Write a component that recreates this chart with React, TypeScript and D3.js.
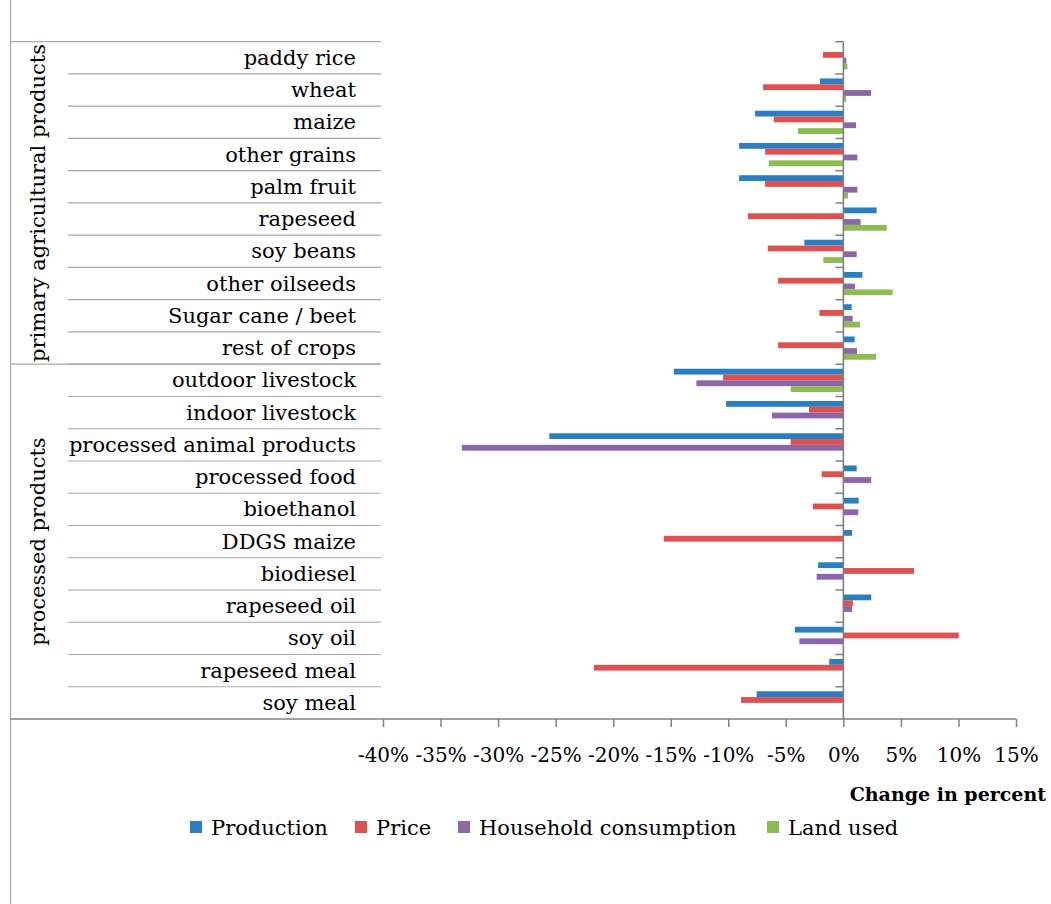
import React, { useRef, useEffect } from 'react';
import * as d3 from 'd3';

const categories = [
  'paddy rice', 'wheat', 'maize', 'other grains', 'palm fruit', 'rapeseed', 'soy beans',
  'other oilseeds', 'Sugar cane / beet', 'rest of crops', 'outdoor livestock', 'indoor livestock',
  'processed animal products', 'processed food', 'bioethanol', 'DDGS maize', 'biodiesel',
  'rapeseed oil', 'soy oil', 'rapeseed meal', 'soy meal',
];
const production = [0, -2.05, -7.67, -9.06, -9.06, 2.89, -3.39, 1.65, 0.72, 0.98, -14.73, -10.19, -25.55, 1.16, 1.33, 0.76, -2.19, 2.42, -4.21, -1.23, -7.53];
const price = [-1.77, -6.97, -6.05, -6.8, -6.8, -8.3, -6.57, -5.67, -2.08, -5.67, -10.45, -2.99, -4.58, -1.89, -2.65, -15.6, 6.14, 0.83, 10.02, -21.67, -8.89];
const household = [0.26, 2.4, 1.1, 1.22, 1.22, 1.5, 1.16, 1.0, 0.81, 1.19, -12.77, -6.2, -33.15, 2.42, 1.29, 0, -2.32, 0.76, -3.82, 0, 0];
const landUsed = [0.35, 0.25, -3.94, -6.48, 0.4, 3.76, -1.74, 4.28, 1.45, 2.84, -4.58, 0, 0, 0, 0, 0, 0, 0, 0, 0, 0];

const seriesNames = ['Production', 'Price', 'Household consumption', 'Land used'];
const seriesValues = [production, price, household, landUsed];
const colors = ['#2a7fc2', '#df5050', '#8c66a7', '#8cbb4f'];

const groups = [
  { label: 'primary agricultural products', first: 'paddy rice', last: 'rest of crops' },
  { label: 'processed products', first: 'outdoor livestock', last: 'soy meal' },
];
const xTicks = [-40, -35, -30, -25, -20, -15, -10, -5, 0, 5, 10, 15];

const FONT = '"DejaVu Serif", serif';

const App: React.FC = () => {
  const svgRef = useRef<SVGSVGElement | null>(null);

  useEffect(() => {
    if (!svgRef.current) return;
    const W = 1051;
    const H = 904;
    const svg = d3.select(svgRef.current).attr('width', W).attr('height', H);
    svg.selectAll('*').remove();

    const x = d3.scaleLinear().domain([-40, 15]).range([383, 1016]);
    const y = d3.scaleBand<string>().domain(categories).range([41.7, 719]).paddingInner(0.28).paddingOuter(0.14);
    const sub = d3.scaleBand<string>().domain(seriesNames).range([0, y.bandwidth()]);
    const half = (y.step() * y.paddingInner()) / 2;
    const top = (c: string) => (y(c) as number) - half;

    const gridColor = '#a9a9a9';
    const axisColor = '#808080';

    // frame left line
    svg.append('line').attr('x1', 10.5).attr('x2', 10.5).attr('y1', 0).attr('y2', H)
      .attr('stroke', gridColor).attr('stroke-width', 1.2);

    // category separators
    categories.forEach((c, i) => {
      if (i === 0) return;
      svg.append('line').attr('x1', 68).attr('x2', 381).attr('y1', top(c)).attr('y2', top(c))
        .attr('stroke', gridColor).attr('stroke-width', 1.2);
    });
    // group separators
    [top(categories[0]), top('outdoor livestock')].forEach((yy) => {
      svg.append('line').attr('x1', 10).attr('x2', 381).attr('y1', yy).attr('y2', yy)
        .attr('stroke', gridColor).attr('stroke-width', 1.2);
    });

    // category labels
    svg.append('g').selectAll('text').data(categories).join('text')
      .attr('x', 356)
      .attr('y', (d) => (y(d) as number) + y.bandwidth() / 2 + 7)
      .attr('text-anchor', 'end')
      .attr('font-family', FONT).attr('font-size', 21).attr('fill', '#000')
      .text((d) => d);

    // group labels
    groups.forEach((g) => {
      const y0 = top(g.first);
      const y1 = top(g.last) + y.step();
      const cy = (y0 + y1) / 2;
      svg.append('text')
        .attr('transform', `translate(45,${cy}) rotate(-90)`)
        .attr('text-anchor', 'middle')
        .attr('font-family', FONT).attr('font-size', 21).attr('fill', '#000')
        .text(g.label);
    });

    // bars
    seriesNames.forEach((s, si) => {
      svg.append('g').selectAll('rect').data(categories).join('rect')
        .attr('x', (_, i) => x(Math.min(0, seriesValues[si][i])))
        .attr('y', (d) => (y(d) as number) + (sub(s) as number))
        .attr('width', (_, i) => Math.abs(x(seriesValues[si][i]) - x(0)))
        .attr('height', sub.bandwidth())
        .attr('fill', colors[si]);
    });

    // vertical zero axis with category ticks
    const x0 = x(0);
    svg.append('line').attr('x1', x0).attr('x2', x0).attr('y1', top(categories[0])).attr('y2', 719)
      .attr('stroke', axisColor).attr('stroke-width', 1.6);
    categories.forEach((c) => {
      svg.append('line').attr('x1', x0 - 8).attr('x2', x0).attr('y1', top(c)).attr('y2', top(c))
        .attr('stroke', axisColor).attr('stroke-width', 1.5);
    });

    // x axis
    const xAxis = d3.axisBottom(x).tickValues(xTicks).tickFormat((d) => `${d}%`).tickSize(8).tickPadding(21);
    const gx = svg.append('g').attr('transform', 'translate(0,719)').call(xAxis);
    gx.select('.domain').remove();
    gx.selectAll('.tick line').attr('stroke', axisColor).attr('stroke-width', 1.5);
    gx.selectAll('.tick text').attr('font-family', FONT).attr('font-size', 20).attr('fill', '#000');
    svg.append('line').attr('x1', 10).attr('x2', 1016).attr('y1', 719).attr('y2', 719)
      .attr('stroke', axisColor).attr('stroke-width', 1.5);

    // axis title
    svg.append('text').attr('x', 1046).attr('y', 801).attr('text-anchor', 'end')
      .attr('font-family', FONT).attr('font-size', 19).attr('font-weight', 'bold').attr('fill', '#000')
      .text('Change in percent');

    // legend
    const legendX = [190, 355, 458, 767];
    seriesNames.forEach((s, si) => {
      const g = svg.append('g').attr('transform', `translate(${legendX[si]},821)`);
      g.append('rect').attr('width', 12).attr('height', 12).attr('fill', colors[si]);
      g.append('text').attr('x', 21).attr('y', 13.5)
        .attr('font-family', FONT).attr('font-size', 21).attr('fill', '#000').text(s);
    });
  }, []);

  return <svg ref={svgRef} style={{ position: 'absolute', left: 0, top: 0 }}></svg>;
};

export default App;
